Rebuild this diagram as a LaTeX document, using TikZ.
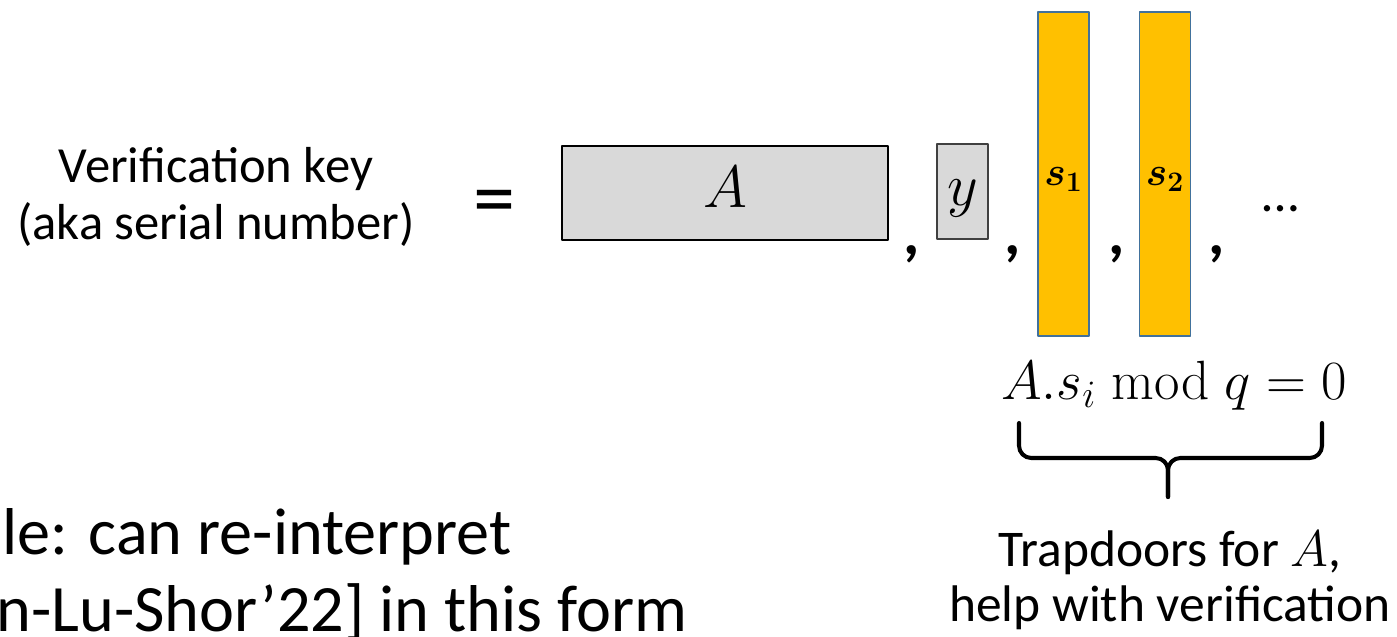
\RequirePackage{fix-cm}
\documentclass[tikz,border=0pt]{standalone}
\usepackage{amsmath}
\usepackage[no-math]{fontspec}
\setmainfont{Carlito}

\definecolor{keygray}{HTML}{D9D9D9}
\definecolor{edgegray}{HTML}{404040}
\definecolor{barorange}{HTML}{FFC000}
\definecolor{barblue}{HTML}{41719C}

\begin{document}
\begin{tikzpicture}[x=0.02cm,y=-0.02cm,line cap=round,line join=round,
  keybox/.style={draw=black,line width=1.1pt,fill=keygray,inner sep=0pt,
    text height=24pt,text depth=8pt,font=\fontsize{34}{40}\selectfont},
  trapbar/.style={draw=barblue,line width=0.9pt,fill=barorange,inner sep=0pt,
    minimum width=1.02cm,minimum height=6.48cm,
    text height=16pt,text depth=3.4pt,font=\fontsize{23}{28}\selectfont},
  commamark/.style={inner sep=0pt,font=\bfseries\fontsize{36}{40}\selectfont},
  bracepen/.style={line width=2.3pt,rounded corners=7pt}]
\clip (0,0) rectangle (1397,636);

% left caption and the equals sign
\node[align=center,font=\fontsize{28.8}{32}\selectfont] (vk) at (216,197)
  {Verification key\\(aka serial number)};
\node[inner sep=0pt,font=\fontsize{48}{50}\selectfont] (eq) at (494,208) {=};

% the key: matrix A, vector y, trapdoor columns
\node[keybox,minimum width=6.52cm,minimum height=1.88cm] (A) at (725,193) {$A$};
\node[keybox,draw=edgegray,minimum width=1.02cm,minimum height=1.9cm] (y) at (962.5,191.5) {$y$};
\node[trapbar] (s1) at (1063.5,174) {$\boldsymbol{s_1}$};
\node[trapbar] (s2) at (1165,174) {$\boldsymbol{s_2}$};

% separators
\node[commamark] (c1) at (912,254) {,};
\node[commamark] (c2) at (1013,254) {,};
\node[commamark] (c3) at (1117,254) {,};
\node[commamark] (c4) at (1217,254) {,};
\node[inner sep=0pt,font=\fontsize{30}{32}\selectfont] (dots) at (1281,209) {…};

% condition and brace
\node[anchor=base,inner sep=0pt,font=\fontsize{31.5}{34}\selectfont] (cond) at (1174,399)
  {$A.s_i \bmod q = 0$};
\coordinate (brL) at (1019,423);
\coordinate (brR) at (1322,423);
\coordinate (brM) at (1168,458);
\coordinate (brT) at (1168,497);
\draw[bracepen] (brL) |- (brM) -- (brT);
\draw[bracepen] (brR) |- (brM) -- (brT);

\node[align=center,font=\fontsize{29.3}{31.3}\selectfont] (trap) at (1170,580)
  {Trapdoors for $A$,\\help with verification};

% cut-off remark at the bottom left
\node[anchor=base east,inner sep=0pt,font=\fontsize{37.7}{42}\selectfont] (ex1) at (512,554)
  {le: can re-interpret};
\node[anchor=base east,inner sep=0pt,font=\fontsize{37.7}{42}\selectfont] (ex2) at (688,631)
  {n-Lu-Shor’22] in this form};

\end{tikzpicture}
\end{document}
